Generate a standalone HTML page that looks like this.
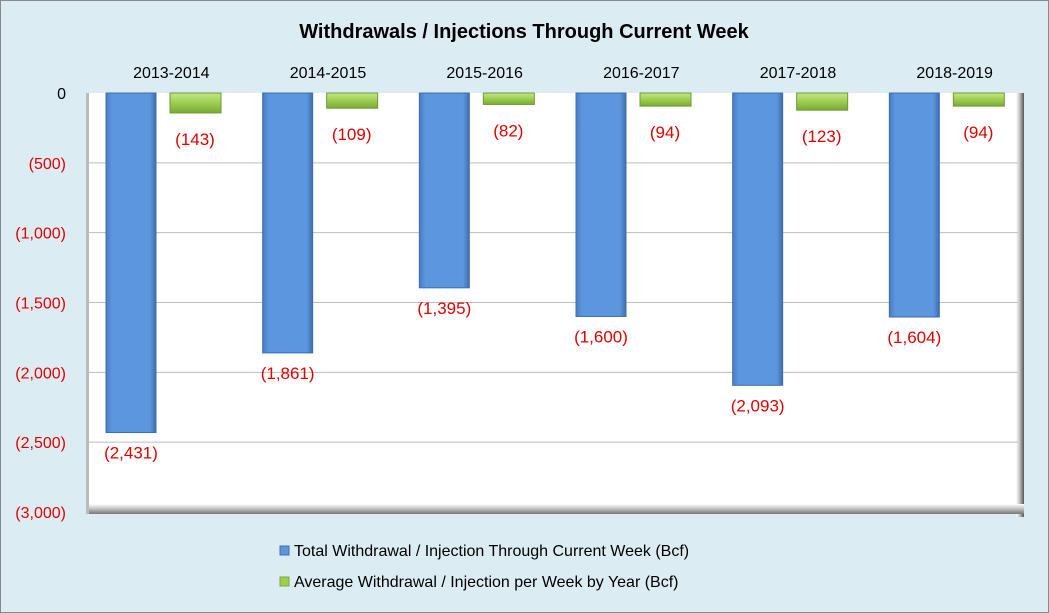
<!DOCTYPE html>
<html><head><meta charset="utf-8"><style>
body{margin:0;background:#fff}
svg{display:block;font-family:"Liberation Sans",Arial,sans-serif}
</style></head><body>
<svg id="c" width="1049" height="613" viewBox="0 0 1049 613">
<defs>
<linearGradient id="gb" x1="0" x2="1" y1="0" y2="0"><stop offset="0" stop-color="#4a7cc0"/><stop offset="0.12" stop-color="#5b96de"/><stop offset="0.88" stop-color="#5b96de"/><stop offset="1" stop-color="#3f6eae"/></linearGradient>
<linearGradient id="gg" x1="0" x2="0" y1="0" y2="1"><stop offset="0" stop-color="#c4e68a"/><stop offset="0.5" stop-color="#9ccf4f"/><stop offset="1" stop-color="#7aa838"/></linearGradient>
<linearGradient id="rw" x1="0" x2="1"><stop offset="0" stop-color="#fff"/><stop offset="0.4" stop-color="#ccc"/><stop offset="1" stop-color="#555"/></linearGradient>
<linearGradient id="bw" x1="0" x2="0" y1="0" y2="1"><stop offset="0" stop-color="#fff"/><stop offset="0.4" stop-color="#ccc"/><stop offset="1" stop-color="#777"/></linearGradient>
</defs>
<rect x="0.5" y="0.5" width="1048" height="612" fill="#dbedf3" stroke="#8a8a8a"/>
<text x="524" y="38" text-anchor="middle" font-size="20" font-weight="bold" fill="#000">Withdrawals / Injections Through Current Week</text>
<rect x="88" y="93" width="936" height="419" fill="#fff"/>
<rect x="1016" y="93" width="8" height="424" fill="url(#rw)"/>
<rect x="88" y="504" width="936" height="10" fill="url(#bw)"/>
<rect x="86" y="93" width="3" height="421" fill="#bbb"/>
<g id="grid"></g>
<g id="bars"></g>
<g id="labels"></g>
<g>
<rect x="280" y="546" width="9" height="9" fill="#5b96de" stroke="#3f6eae"/>
<text x="294" y="556" font-size="16" fill="#000">Total Withdrawal / Injection Through Current Week (Bcf)</text>
<rect x="280" y="577" width="9" height="9" fill="#9ccf4f" stroke="#7aa838"/>
<text x="294" y="587" font-size="16" fill="#000">Average Withdrawal / Injection per Week by Year (Bcf)</text>
</g>
</svg>
<script>
const categories=["2013-2014","2014-2015","2015-2016","2016-2017","2017-2018","2018-2019"];
const totalValues=[-2431,-1861,-1395,-1600,-2093,-1604];
const avgValues=[-143,-109,-82,-94,-123,-94];
const tickValues=[0,-500,-1000,-1500,-2000,-2500,-3000];
const tickLabels=["0","(500)","(1,000)","(1,500)","(2,000)","(2,500)","(3,000)"];
const NS="http://www.w3.org/2000/svg";
const X0=88,X1=1028,Y0=93,Y1=512,MIN=-3000;
const y=v=>Y0+(v/MIN)*(Y1-Y0);
const bw=(X1-X0)/categories.length;
const x=i=>X0+i*bw;
function mk(tag,attrs,parent){const e=document.createElementNS(NS,tag);for(const k in attrs)e.setAttribute(k,attrs[k]);parent.appendChild(e);return e;}
const fmt=v=>v===0?"0":"("+Math.abs(v).toLocaleString("en-US")+")";
const grid=document.getElementById("grid"),bars=document.getElementById("bars"),labels=document.getElementById("labels");
tickValues.forEach((t,i)=>{
  if(t!==0&&t!==MIN){const l=mk("line",{x1:X0,x2:1018,y1:y(t),y2:y(t),stroke:"#bdbdbd","stroke-width":1},grid);
  
  }
  const tx=mk("text",{x:66,y:y(t)+6,"text-anchor":"end","font-size":16,fill:t===0?"#000":"#e00000"},grid);
  tx.textContent=tickLabels[i];
  
  
});
categories.forEach((c,i)=>{
  const ct=mk("text",{x:x(i)+bw/2+5,y:78,"text-anchor":"middle","font-size":16,fill:"#000"},labels);
  ct.textContent=c;
  
  
  const bx=x(i)+18,gx=x(i)+82;
  const b=mk("rect",{x:bx,y:Y0,width:50,height:y(totalValues[i])-Y0,fill:"url(#gb)",stroke:"#3f6eae","stroke-width":1},bars);
  
  
  const g=mk("rect",{x:gx,y:Y0,width:51,height:y(avgValues[i])-Y0,fill:"url(#gg)",stroke:"#6f9a30","stroke-width":1},bars);
  
  
  const tl=mk("text",{x:bx+25,y:y(totalValues[i])+26,"text-anchor":"middle","font-size":17,fill:"#e00000"},labels);
  tl.textContent=fmt(totalValues[i]);
  
  
  const gl=mk("text",{x:gx+25,y:y(avgValues[i])+32,"text-anchor":"middle","font-size":17,fill:"#e00000"},labels);
  gl.textContent=fmt(avgValues[i]);
  
  
});
</script>
</body></html>
